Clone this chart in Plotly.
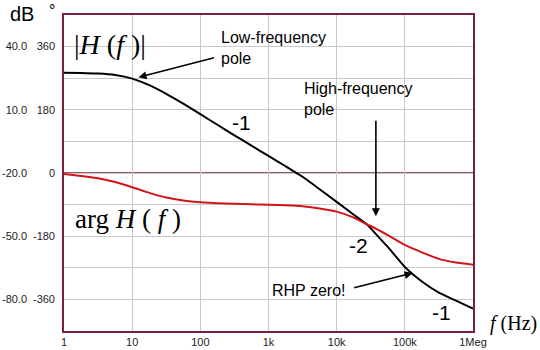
import plotly.graph_objects as go
import math

# ---- data ----
freq_hz = [1, 1.78, 3.16, 5.62, 10, 17.8, 31.6, 56.2, 100, 178, 316, 562, 1000, 1780, 3160, 5620,
           10000, 17800, 28800, 31600, 56200, 100000, 178000, 316000, 562000, 1000000]
mag_db = [27.6, 27.5, 27.2, 26.5, 24.8, 21.7, 17.6, 12.9, 7.9, 2.9, -2.1, -7.0, -11.9, -16.8, -21.8, -27.7,
          -33.7, -39.8, -44.8, -46.3, -55.1, -64.6, -71.5, -76.8, -80.6, -84.4]
phase_deg = [-3, -8.7, -15, -25.7, -40.5, -56.7, -69.7, -78.2, -83.3, -86.0, -87.9, -89.2, -90.5, -92.2, -95, -101,
             -110, -127, -148, -151, -177, -205, -226, -244.5, -255, -261]

x_tick_vals = [1, 10, 100, 1000, 10000, 100000, 1000000]
x_tick_text = ["1", "10", "100", "1k", "10k", "100k", "1Meg"]
db_grid = [55, 40, 25, 10, -5, -20, -35, -50, -65, -80, -95]
db_labels = ["", "40.0", "", "10.0", "", "-20.0", "", "-50.0", "", "-80.0", ""]
deg_vals = [360, 180, 0, -180, -360]
deg_labels = ["360", "180", "0", "-180", "-360"]

# annotation anchor points on the curves (Hz, dB)
lf_pole = (12.4, 25.4)
hf_pole = (37600, -40.5)
rhp_zero = (130000, -67.5)

BORDER = "#7a1f3d"
GRID = "#c8c8c8"
SANS = "Liberation Sans, Arial, sans-serif"
SERIF = "Liberation Serif, Times New Roman, serif"

# plot-area pixel geometry (for placing text)
L, R, T, B = 63.5, 473.0, 15.0, 331.0
def px(x):
    return (x - L) / (R - L)
def py(y):
    return (B - y) / (B - T)

fig = go.Figure()
fig.add_trace(go.Scatter(x=freq_hz, y=mag_db, mode="lines",
                         line=dict(color="black", width=2, shape="spline", smoothing=0.4),
                         yaxis="y", showlegend=False, hoverinfo="skip"))
fig.add_trace(go.Scatter(x=freq_hz, y=phase_deg, mode="lines",
                         line=dict(color="#d01418", width=2, shape="spline", smoothing=0.4),
                         yaxis="y2", showlegend=False, hoverinfo="skip"))

ann = []
def txt(text, x, y, size, font=SANS, xanchor="center", yanchor="middle", align="center"):
    ann.append(dict(text=text, x=px(x), y=py(y), xref="paper", yref="paper",
                    xanchor=xanchor, yanchor=yanchor, align=align, showarrow=False,
                    font=dict(family=font, size=size, color="black")))

txt("dB", 21, 14, 20)
txt("°", 51, 11, 16)
txt("<i>f</i> (Hz)", 488, 323, 20, font=SERIF, xanchor="left")
txt("|<i>H</i> (<i>f </i>)|", 110, 45, 28, font=SERIF)
txt("arg <i>H</i> ( <i>f </i>)", 128, 219, 27, font=SERIF)
txt("Low-frequency<br>pole", 219, 27, 16, xanchor="left", yanchor="top", align="left")
txt("High-frequency<br>pole", 302, 78, 16, xanchor="left", yanchor="top", align="left")
txt("-1", 241, 122, 21)
txt("-2", 358, 245, 21)
txt("-1", 441, 312, 21)
txt("RHP zero!", 309, 290, 16)

def arrow(pt, axp, ayp):
    ann.append(dict(text="", x=math.log10(pt[0]), y=pt[1], xref="x", yref="y",
                    showarrow=True, ax=axp, ay=ayp, arrowhead=2, arrowsize=1,
                    arrowwidth=1.6, arrowcolor="black"))

arrow(lf_pole, 77, -20)
arrow(hf_pole, 0, -97)
arrow(rhp_zero, -60, 15)

fig.update_layout(
    width=540, height=350,
    margin=dict(l=L, r=540 - R, t=T, b=350 - B, autoexpand=False),
    paper_bgcolor="white", plot_bgcolor="white",
    annotations=ann,
    shapes=[dict(type="line", xref="paper", x0=0, x1=1, yref="y", y0=-20, y1=-20,
                 line=dict(color=BORDER, width=1.3), layer="below")],
    xaxis=dict(type="log", range=[0, 6], tickvals=x_tick_vals, ticktext=x_tick_text,
               showgrid=True, gridcolor=GRID, gridwidth=1, ticks="", automargin=False,
               showline=True, linecolor=BORDER, linewidth=1.5, mirror=True,
               ticklabelstandoff=0,
               tickfont=dict(family=SANS, size=11, color="#222"), zeroline=False),
    yaxis=dict(range=[-95, 55], tickvals=db_grid, ticktext=db_labels, automargin=False,
               showgrid=True, gridcolor=GRID, gridwidth=1, ticks="", zeroline=False,
               showline=True, linecolor=BORDER, linewidth=1.5, mirror=True,
               ticklabelstandoff=33,
               tickfont=dict(family=SANS, size=11, color="#222")),
    yaxis2=dict(range=[-450, 450], overlaying="y", side="left", anchor="x", automargin=False,
                tickvals=deg_vals, ticktext=deg_labels, showgrid=False, zeroline=False,
                showline=False, ticks="", ticklabelstandoff=8,
                tickfont=dict(family=SANS, size=11, color="#222")),
)

fig.write_html("out.html")
